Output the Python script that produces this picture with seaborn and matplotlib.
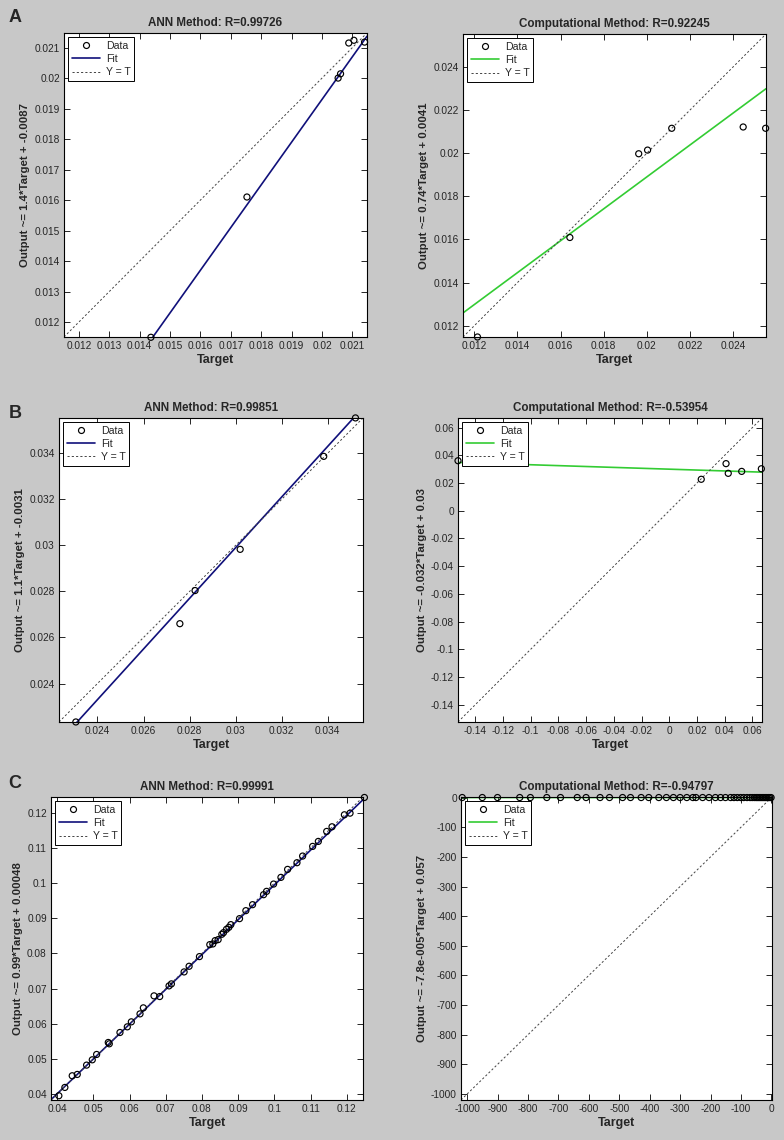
import matplotlib
matplotlib.use("Agg")
import matplotlib.pyplot as plt
import numpy as np
import pandas as pd
import seaborn as sns
from matplotlib.lines import Line2D
from matplotlib.ticker import FuncFormatter

# ---- data ----
# panel A
ann_a_target = [0.01437, 0.01753, 0.02053, 0.02061, 0.02088, 0.02105, 0.02140]
ann_a_output = [0.01150, 0.01610, 0.02000, 0.02014, 0.02115, 0.02124, 0.02118]
comp_a_target = [0.01215, 0.01643, 0.01962, 0.02003, 0.02115, 0.02446, 0.02550]
comp_a_output = [0.01148, 0.01609, 0.01997, 0.02014, 0.02115, 0.02121, 0.02115]

# panel B
ann_b_target = [0.02306, 0.02758, 0.02824, 0.03020, 0.03383, 0.03521]
ann_b_output = [0.02233, 0.02660, 0.02804, 0.02983, 0.03387, 0.03554]
comp_b_target = [0.0231, 0.0426, 0.0523, 0.0665, 0.0410, -0.1525]
comp_b_output = [0.0227, 0.0270, 0.0284, 0.0303, 0.0340, 0.0361]

# panel C
ann_c_target = [0.04046, 0.04212, 0.04415, 0.04554, 0.04812, 0.04969, 0.05089, 0.05411,
                0.05439, 0.05734, 0.05937, 0.06048, 0.06288, 0.06380, 0.06675, 0.06832,
                0.07090, 0.07155, 0.07506, 0.07644, 0.07930, 0.08216, 0.08299, 0.08364,
                0.08446, 0.08548, 0.08594, 0.08677, 0.08742, 0.08797, 0.09037, 0.09212,
                0.09397, 0.09701, 0.09784, 0.09978, 0.10181, 0.10365, 0.10624, 0.10780,
                0.11057, 0.11214, 0.11445, 0.11592, 0.11934, 0.12090, 0.12487]
ann_c_output = [0.03951, 0.04187, 0.04519, 0.04557, 0.04822, 0.04973, 0.05125, 0.05466,
                0.05428, 0.05750, 0.05911, 0.06053, 0.06280, 0.06451, 0.06792, 0.06773,
                0.07076, 0.07133, 0.07473, 0.07634, 0.07909, 0.08250, 0.08269, 0.08364,
                0.08392, 0.08544, 0.08591, 0.08686, 0.08742, 0.08818, 0.08989, 0.09216,
                0.09386, 0.09670, 0.09765, 0.09973, 0.10163, 0.10390, 0.10580, 0.10769,
                0.11044, 0.11186, 0.11470, 0.11602, 0.11943, 0.11990, 0.12436]
comp_c_target = [-1, -5, -10, -15, -20, -25, -30, -35, -40, -45, -50, -56, -63, -70, -80,
                 -91, -101, -112, -123, -134, -151, -167, -184, -205, -226, -248, -258,
                 -278, -300, -322, -345, -370, -403, -428, -463, -489, -532, -563, -609,
                 -638, -693, -738, -792, -827, -900, -950, -1016]
comp_c_output = ann_c_output

# fit coefficients as printed on the y labels
fit_slope = [1.4, 0.74, 1.1, -0.032, 0.99, -7.8e-05]
fit_intercept = [-0.0087, 0.0041, -0.0031, 0.03, 0.00048, 0.057]
r_values = ["0.99726", "0.92245", "0.99851", "-0.53954", "0.99991", "-0.94797"]
slope_txt = ["1.4", "0.74", "1.1", "-0.032", "0.99", "-7.8e-005"]
intercept_txt = ["-0.0087", "0.0041", "-0.0031", "0.03", "0.00048", "0.057"]

GRAY = "#c8c8c8"
NAVY = "#10107a"
GREEN = "#33cc33"

sns.set_style("ticks")
plt.rcParams.update({
    "font.family": ["Liberation Sans", "DejaVu Sans"],
    "axes.unicode_minus": False,
    "axes.linewidth": 0.8,
    "xtick.labelsize": 7.3,
    "ytick.labelsize": 7.3,
})


def fmt(v, _):
    return f"{round(v, 6) + 0.0:g}"


def draw_panel(ax, target, output, k, lims, ticks, color):
    df = pd.DataFrame({"Target": target, "Output": output})
    lo, hi = lims
    xs = np.array([lo, hi])
    ax.plot(xs, fit_slope[k] * xs + fit_intercept[k], color=color, lw=1.2, zorder=2)
    ax.plot(xs, xs, color="#444444", lw=0.7, ls=(0, (2.2, 2.2)), zorder=2)
    sns.scatterplot(data=df, x="Target", y="Output", ax=ax, marker="o", s=19,
                    facecolor="none", edgecolor="black", linewidth=0.85,
                    clip_on=False, zorder=3, legend=False)
    ax.set_xlim(lo, hi)
    ax.set_ylim(lo, hi)
    ax.set_xticks(ticks)
    ax.set_yticks(ticks)
    ax.xaxis.set_major_formatter(FuncFormatter(fmt))
    ax.yaxis.set_major_formatter(FuncFormatter(fmt))
    ax.tick_params(direction="in", top=True, right=True, length=4, width=0.7, pad=3)
    ax.set_facecolor("white")
    for side in ax.spines:
        ax.spines[side].set_color("black")
    method = "ANN Method" if k % 2 == 0 else "Computational Method"
    ax.set_title(f"{method}: R={r_values[k]}", fontsize=8.4, fontweight="bold", pad=5)
    ax.set_xlabel("Target", fontsize=9, fontweight="bold", labelpad=2)
    ax.set_ylabel(f"Output ~= {slope_txt[k]}*Target + {intercept_txt[k]}",
                  fontsize=8.2, fontweight="bold", labelpad=3)
    handles = [
        Line2D([0], [0], marker="o", ls="", mfc="none", mec="black", mew=0.85, ms=4.3),
        Line2D([0], [0], color=color, lw=1.2),
        Line2D([0], [0], color="#444444", lw=0.7, ls=(0, (2.2, 2.2))),
    ]
    leg = ax.legend(handles, ["Data", "Fit", "Y = T"], loc="upper left", fontsize=7.6,
                    frameon=True, fancybox=False, framealpha=1, edgecolor="black",
                    handlelength=2.7, handletextpad=0.5, labelspacing=0.3,
                    borderpad=0.35, borderaxespad=0.4)
    leg.get_frame().set_linewidth(0.7)
    leg.set_zorder(5)


fig = plt.figure(figsize=(7.84, 11.4), dpi=100, facecolor=GRAY)

positions = [
    [0.0816, 0.7044, 0.3865, 0.2667],
    [0.5906, 0.7044, 0.3865, 0.2658],
    [0.0753, 0.3667, 0.3878, 0.2667],
    [0.5842, 0.3667, 0.3878, 0.2667],
    [0.0651, 0.0351, 0.3980, 0.2658],
    [0.5880, 0.0351, 0.3967, 0.2658],
]
panels = [
    (ann_a_target, ann_a_output, (0.01151, 0.02148), np.arange(0.012, 0.0215, 0.001), NAVY),
    (comp_a_target, comp_a_output, (0.01148, 0.02552), np.arange(0.012, 0.0255, 0.002), GREEN),
    (ann_b_target, ann_b_output, (0.02233, 0.03554), np.arange(0.024, 0.0355, 0.002), NAVY),
    (comp_b_target, comp_b_output, (-0.1525, 0.067), np.arange(-0.14, 0.067, 0.02), GREEN),
    (ann_c_target, ann_c_output, (0.0383, 0.1245), np.arange(0.04, 0.1245, 0.01), NAVY),
    (comp_c_target, comp_c_output, (-1020, 2), np.arange(-1000, 1, 100), GREEN),
]
for k, (pos, (t, o, lims, ticks, col)) in enumerate(zip(positions, panels)):
    ax = fig.add_axes(pos)
    draw_panel(ax, t, o, k, lims, ticks, col)

for letter, y in zip(["A", "B", "C"], [17, 413, 783]):
    fig.text(15 / 784, 1 - y / 1140, letter, fontsize=13, fontweight="bold",
             ha="center", va="center")

fig.savefig("out.png", dpi=100, facecolor=GRAY)
